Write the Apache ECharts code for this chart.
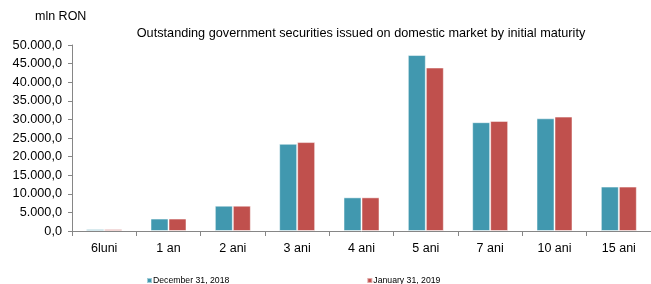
<!DOCTYPE html>
<html>
<head>
<meta charset="utf-8">
<script src="https://cdn.jsdelivr.net/npm/echarts@6/dist/echarts.min.js"></script>
<style>
  html, body { margin: 0; padding: 0; background: #fff; }
  #chart { width: 651px; height: 284px; }
</style>
</head>
<body>
<div id="chart"></div>
<script>
const categories = ["6luni", "1 an", "2 ani", "3 ani", "4 ani", "5 ani", "7 ani", "10 ani", "15 ani"];
const dec2018 = [500, 3350, 6800, 23450, 9050, 47300, 29250, 30300, 11950];
const jan2019 = [500, 3350, 6800, 23900, 9050, 43950, 29600, 30750, 11950];
const seriesNames = ["December 31, 2018", "January 31, 2019"];

const chart = echarts.init(document.getElementById("chart"));

// 50000 -> "50.000,0"
function fmt(v) {
  const s = String(Math.round(v)).replace(/\B(?=(\d{3})+(?!\d))/g, ".");
  return s + ",0";
}

const font = "Liberation Sans, Arial, sans-serif";

chart.setOption({
  animation: false,
  textStyle: { fontFamily: font },
  title: [
    {
      text: "mln RON",
      left: 30,
      top: 5,
      textStyle: { fontSize: 12.5, fontWeight: "normal", color: "#000", fontFamily: font },
    },
    {
      text: "Outstanding government securities issued on domestic market by initial maturity",
      left: 356,
      top: 22,
      textAlign: "center",
      textStyle: { fontSize: 12.7, fontWeight: "normal", color: "#000", fontFamily: font },
    },
  ],
  legend: {
    left: 141,
    bottom: -6,
    itemWidth: 5,
    itemHeight: 5,
    itemGap: 137,
    icon: "rect",
    textStyle: { fontSize: 8.7, color: "#000", padding: [0, 0, 0, -4], fontFamily: font },
    data: seriesNames,
  },
  grid: {
    left: 72,
    right: -6,
    top: 45,
    bottom: 53,
    containLabel: false,
  },
  xAxis: {
    type: "category",
    data: categories,
    axisLine: { lineStyle: { color: "#868686" } },
    axisTick: { show: true, length: 5, lineStyle: { color: "#868686" } },
    axisLabel: { color: "#000", fontSize: 12.5, margin: 11, fontFamily: font },
  },
  yAxis: {
    type: "value",
    min: 0,
    max: 50000,
    interval: 5000,
    axisLine: { show: true, lineStyle: { color: "#868686" } },
    axisTick: { show: true, length: 4, lineStyle: { color: "#868686" } },
    splitLine: { show: false },
    axisLabel: { color: "#000", fontSize: 12.7, margin: 10, formatter: fmt, fontFamily: font },
  },
  series: [
    {
      name: seriesNames[0],
      type: "bar",
      barWidth: 18,
      barGap: "0%",
      itemStyle: { color: "#4198AF", borderColor: "rgba(255,255,255,0.5)", borderWidth: 1 },
      data: dec2018,
    },
    {
      name: seriesNames[1],
      type: "bar",
      barWidth: 18,
      itemStyle: { color: "#C0504D", borderColor: "rgba(255,255,255,0.5)", borderWidth: 1 },
      data: jan2019,
    },
  ],
});
</script>
</body>
</html>
